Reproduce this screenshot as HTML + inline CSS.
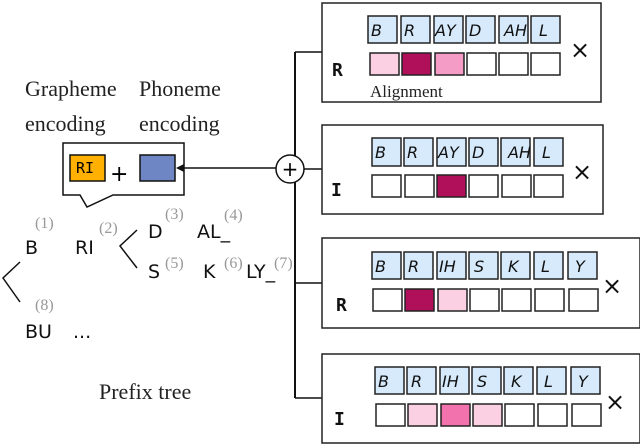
<!DOCTYPE html>
<html><head><style>body{margin:0;background:#fff}svg{display:block}</style></head><body>
<svg width="640" height="446" viewBox="0 0 640 446" xmlns="http://www.w3.org/2000/svg">
<g font-family="Liberation Serif, serif" font-size="22" fill="#222">
<text x="25" y="96">Grapheme</text><text x="25" y="131">encoding</text>
<text x="139" y="96">Phoneme</text><text x="139" y="131">encoding</text>
<text x="99" y="399">Prefix tree</text>
</g>
<path d="M63 143H184V195H113L87 207L80 195H63Z" fill="#fff" stroke="#111" stroke-width="1.5"/>
<rect x="70" y="155" width="35" height="26" fill="#FFB000" stroke="#111" stroke-width="1.5"/>
<text x="76" y="173" font-family="DejaVu Sans Mono, monospace" font-size="15">RI</text>
<text x="110" y="181" font-family="DejaVu Sans, sans-serif" font-size="22">+</text>
<rect x="140" y="155" width="35" height="26" fill="#6E86C4" stroke="#111" stroke-width="1.5"/>
<line x1="183" y1="168" x2="276" y2="168" stroke="#111" stroke-width="1.5"/>
<path d="M176 168L184 164V172Z" fill="#111"/>
<line x1="295" y1="52" x2="295" y2="398" stroke="#111" stroke-width="2"/>
<circle cx="290" cy="169" r="14" fill="#fff" stroke="#111" stroke-width="1.5"/>
<text x="290" y="176" text-anchor="middle" font-family="DejaVu Sans, sans-serif" font-size="20">+</text>
<path d="M295 52H322M304 169H322M295 283H322M295 398H322" stroke="#111" stroke-width="1.5" fill="none"/>
<g font-family="DejaVu Sans, sans-serif" font-size="19" fill="#111">
<text x="25" y="254">B</text><text x="75" y="254">RI</text>
<text x="148" y="238">D</text><text x="197" y="238">AL_</text>
<text x="148" y="278">S</text><text x="203" y="278">K</text><text x="246" y="278">LY_</text>
<text x="25" y="338">BU</text><text x="73" y="338">...</text>
</g>
<g font-family="Liberation Serif, serif" font-size="16" fill="#999">
<text x="35" y="228">(1)</text><text x="99" y="233">(2)</text><text x="165" y="219">(3)</text><text x="224" y="220">(4)</text>
<text x="165" y="268">(5)</text><text x="224" y="268">(6)</text><text x="274" y="268">(7)</text><text x="35" y="310">(8)</text>
</g>
<path d="M20 262L3 278L20 302M137 230L120 246L137 268" stroke="#111" stroke-width="1.5" fill="none"/>
<g stroke="#222" stroke-width="1.5">
<rect x="322" y="3" width="279" height="99" fill="#fff"/>
<rect x="322" y="125" width="281" height="89" fill="#fff"/>
<rect x="322" y="238" width="318" height="90" fill="#fff"/>
<rect x="322" y="354" width="318" height="89" fill="#fff"/>
</g>
<g font-family="DejaVu Sans Mono, monospace" font-weight="bold" font-size="18" fill="#111">
<text x="332" y="76">R</text><text x="331" y="196">I</text><text x="336" y="311">R</text><text x="334" y="425">I</text>
</g>
<g font-family="DejaVu Sans, sans-serif" font-size="24" fill="#111">
<text x="570" y="58">×</text><text x="572" y="180">×</text><text x="602" y="294">×</text><text x="605" y="410">×</text>
</g>
<text x="370" y="97" font-family="Liberation Serif, serif" font-size="17" fill="#222">Alignment</text>
<g stroke="#222" stroke-width="1.5">
<g fill="#D6EAFB"><rect x="368" y="16" width="29" height="27"/><rect x="401" y="16" width="29" height="27"/><rect x="434" y="16" width="29" height="27"/><rect x="466" y="16" width="29" height="27"/><rect x="499" y="16" width="29" height="27"/><rect x="531" y="16" width="29" height="27"/></g>
<rect x="370" y="53" width="29" height="22" fill="#FBD0E3"/><rect x="402" y="53" width="29" height="22" fill="#B0105A"/><rect x="435" y="53" width="29" height="22" fill="#F49CC6"/><rect x="467" y="53" width="29" height="22" fill="#fff"/><rect x="499" y="53" width="29" height="22" fill="#fff"/><rect x="531" y="53" width="29" height="22" fill="#fff"/>
<g fill="#D6EAFB"><rect x="372" y="138" width="29" height="28"/><rect x="404" y="138" width="29" height="28"/><rect x="437" y="138" width="29" height="28"/><rect x="469" y="138" width="29" height="28"/><rect x="501" y="138" width="29" height="28"/><rect x="534" y="138" width="29" height="28"/></g>
<rect x="372" y="175" width="29" height="22" fill="#fff"/><rect x="405" y="175" width="29" height="22" fill="#fff"/><rect x="437" y="175" width="29" height="22" fill="#B0105A"/><rect x="469" y="175" width="29" height="22" fill="#fff"/><rect x="502" y="175" width="29" height="22" fill="#fff"/><rect x="534" y="175" width="29" height="22" fill="#fff"/>
<g fill="#D6EAFB"><rect x="372" y="252" width="29" height="27"/><rect x="404" y="252" width="29" height="27"/><rect x="437" y="252" width="29" height="27"/><rect x="469" y="252" width="29" height="27"/><rect x="501" y="252" width="29" height="27"/><rect x="534" y="252" width="29" height="27"/><rect x="568" y="252" width="29" height="27"/></g>
<rect x="373" y="289" width="29" height="22" fill="#fff"/><rect x="405" y="289" width="29" height="22" fill="#B0105A"/><rect x="438" y="289" width="29" height="22" fill="#FBD0E3"/><rect x="470" y="289" width="29" height="22" fill="#fff"/><rect x="502" y="289" width="29" height="22" fill="#fff"/><rect x="535" y="289" width="29" height="22" fill="#fff"/><rect x="569" y="289" width="29" height="22" fill="#fff"/>
<g fill="#D6EAFB"><rect x="375" y="367" width="29" height="27"/><rect x="407" y="367" width="29" height="27"/><rect x="440" y="367" width="29" height="27"/><rect x="472" y="367" width="29" height="27"/><rect x="504" y="367" width="29" height="27"/><rect x="537" y="367" width="29" height="27"/><rect x="571" y="367" width="29" height="27"/></g>
<rect x="376" y="404" width="29" height="22" fill="#fff"/><rect x="408" y="404" width="29" height="22" fill="#FBD0E3"/><rect x="441" y="404" width="29" height="22" fill="#F272AE"/><rect x="473" y="404" width="29" height="22" fill="#FBD0E3"/><rect x="505" y="404" width="29" height="22" fill="#fff"/><rect x="538" y="404" width="29" height="22" fill="#fff"/><rect x="572" y="404" width="29" height="22" fill="#fff"/>
</g>
<g font-family="DejaVu Sans, sans-serif" font-style="italic" font-size="16" fill="#111">
<text x="371" y="36">B</text><text x="404" y="36">R</text><text x="435" y="36">AY</text><text x="469" y="36">D</text><text x="504" y="36">AH</text><text x="539" y="36">L</text>
<text x="375" y="158">B</text><text x="407" y="158">R</text><text x="438" y="158">AY</text><text x="472" y="158">D</text><text x="508" y="158">AH</text><text x="542" y="158">L</text>
<text x="375" y="272">B</text><text x="408" y="272">R</text><text x="439" y="272">IH</text><text x="474" y="272">S</text><text x="508" y="272">K</text><text x="541" y="272">L</text><text x="575" y="272">Y</text>
<text x="378" y="387">B</text><text x="411" y="387">R</text><text x="442" y="387">IH</text><text x="477" y="387">S</text><text x="511" y="387">K</text><text x="544" y="387">L</text><text x="578" y="387">Y</text>
</g>
</svg>
</body></html>
